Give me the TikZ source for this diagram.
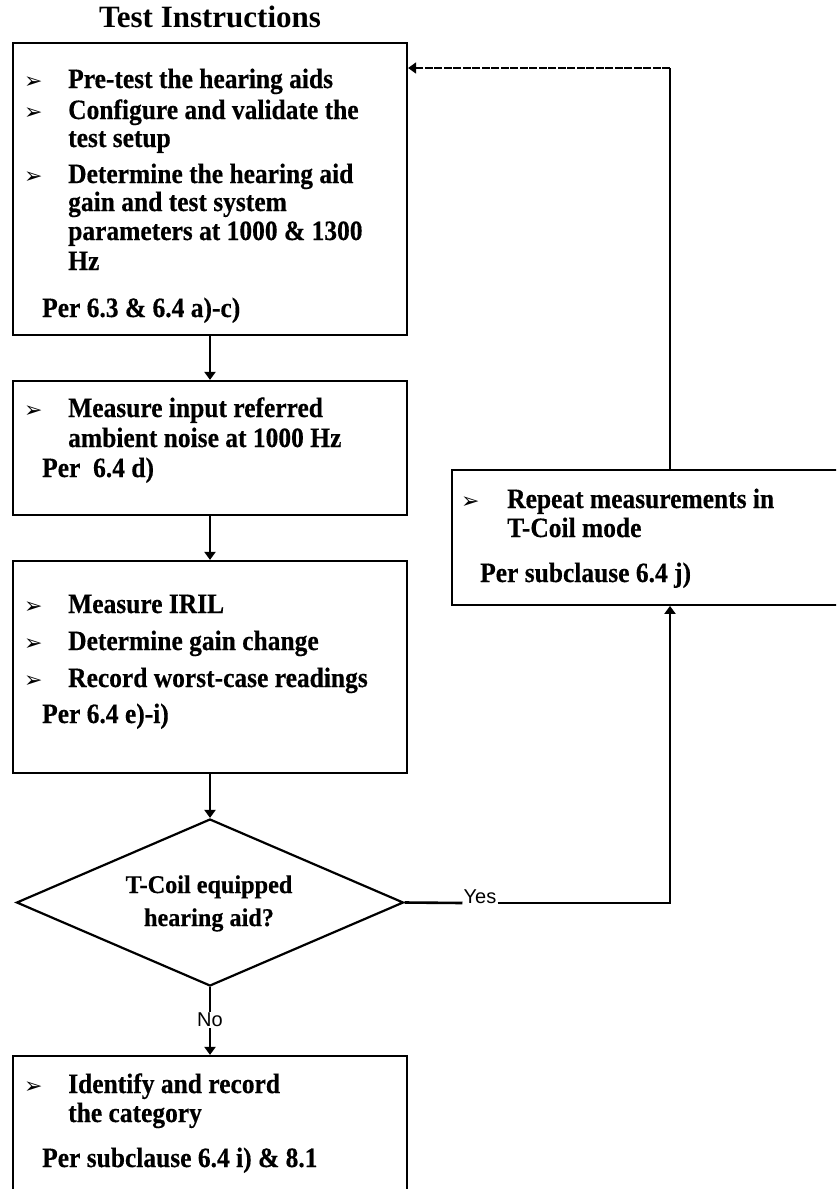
\documentclass[tikz,border=0pt]{standalone}
\usepackage{fontspec}
\setmainfont{Liberation Serif}
\newfontfamily\boxfont[FakeStretch=0.91,FakeBold=0.4]{Liberation Serif Bold}
\newfontfamily\diafont[FakeStretch=0.95,FakeBold=0.4]{Liberation Serif Bold}
\newfontfamily\sansf{Liberation Sans}
\newfontfamily\symf{DejaVu Sans}
\usetikzlibrary{arrows.meta,shapes.geometric}
\tikzset{
  boxst/.style={draw, rectangle, line width=2.2pt, inner sep=0pt},
  txt/.style={font=\boxfont\fontsize{28}{30}\selectfont, inner sep=0pt, anchor=base west},
  ctxt/.style={font=\diafont\fontsize{25.5}{28}\selectfont, inner sep=0pt, anchor=base},
  bul/.style={font=\symf\fontsize{22}{24}\selectfont, inner sep=0pt, anchor=base west},
  lbl/.style={font=\sansf\fontsize{20}{22}\selectfont, inner sep=1pt},
  conn/.style={line width=2.6pt, -{Triangle[width=11pt,length=8pt]}},
  plain/.style={line width=2.6pt},
  yesline/.style={line width=2.6pt},
  loopv/.style={line width=1.8pt},
  looph/.style={line width=1.8pt, dash pattern=on 8pt off 1.5pt, -{Triangle[width=11pt,length=8pt]}}
}
\begin{document}
\begin{tikzpicture}[x=1pt,y=-1pt]
\useasboundingbox (0,0) rectangle (836,1189);
\fill[white] (0,0) rectangle (836,1189);
\clip (0,0) rectangle (836,1189);

% title
\node[font=\bfseries\fontsize{31}{34}\selectfont, inner sep=0pt, anchor=base] (title) at (210,27) {Test Instructions};

% boxes
\node[boxst, minimum width=394pt, minimum height=292pt] (box1) at (210,189) {};
\node[boxst, minimum width=394pt, minimum height=134pt] (box2) at (210,448) {};
\node[boxst, minimum width=394pt, minimum height=212pt] (box3) at (210,667) {};
\node[boxst, minimum width=394pt, minimum height=174pt] (box5) at (210,1143) {};
\node[boxst, line width=1.8pt, minimum width=436pt, minimum height=135pt] (rbox) at (670,537.5) {};
\node[diamond, draw, line width=2.2pt, inner sep=0pt,
      minimum width=387pt, minimum height=167pt] (dia) at (210,902.5) {};

% box 1 text
\node[bul] (b1p1) at (24,88) {➢};
\node[txt] (b1a) at (68,88) {Pre-test the hearing aids};
\node[bul] (b1p2) at (24,119) {➢};
\node[txt] (b1b) at (68,119) {Configure and validate the};
\node[txt] (b1c) at (68,147) {test setup};
\node[bul] (b1p3) at (24,183) {➢};
\node[txt] (b1d) at (68,183) {Determine the hearing aid};
\node[txt] (b1e) at (68,211) {gain and test system};
\node[txt] (b1f) at (68,240) {parameters at 1000 \& 1300};
\node[txt] (b1g) at (68,270) {Hz};
\node[txt] (b1h) at (42,317) {Per 6.3 \& 6.4 a)-c)};

% box 2 text
\node[bul] (b2p1) at (24,417) {➢};
\node[txt] (b2a) at (68,417) {Measure input referred};
\node[txt] (b2b) at (68,447) {ambient noise at 1000 Hz};
\node[txt] (b2c) at (42,477) {Per\ \ 6.4 d)};

% box 3 text
\node[bul] (b3p1) at (24,613) {➢};
\node[txt] (b3a) at (68,613) {Measure IRIL};
\node[bul] (b3p2) at (24,650) {➢};
\node[txt] (b3b) at (68,650) {Determine gain change};
\node[bul] (b3p3) at (24,687) {➢};
\node[txt] (b3c) at (68,687) {Record worst-case readings};
\node[txt] (b3d) at (42,723) {Per 6.4 e)-i)};

% diamond text
\node[ctxt] (d1) at (209,893) {T-Coil equipped};
\node[ctxt] (d2) at (209,926) {hearing aid?};

% box 5 text
\node[bul] (b5p1) at (24,1093) {➢};
\node[txt] (b5a) at (68,1093) {Identify and record};
\node[txt] (b5b) at (68,1122) {the category};
\node[txt] (b5c) at (42,1167) {Per subclause 6.4 i) \& 8.1};

% right box text
\node[bul] (rp1) at (461,508) {➢};
\node[txt] (ra) at (507,508) {Repeat measurements in};
\node[txt] (rb) at (507,537) {T-Coil mode};
\node[txt] (rc) at (480,582) {Per subclause 6.4 j)};

% labels
\node[lbl] (no) at (210,1020) {No};
\node[lbl, anchor=base, inner sep=0pt] (yes) at (480,903) {Yes};

% connectors
\draw[conn] (box1.south) -- (box2.north);
\draw[conn] (box2.south) -- (box3.north);
\draw[conn] (box3.south) -- (dia.north);
\draw[plain] (dia.south) -- (no.north);
\draw[conn] (no.south) -- (box5.north);
\draw[yesline] (dia.east) -- ([xshift=-1pt]yes.base west);
\draw[yesline, -{Triangle[width=11pt,length=8pt]}] ([xshift=1pt]yes.base east) -| (rbox.south);
\coordinate (loopc) at (670,68);
\draw[loopv] (rbox.north) -- (loopc);
\draw[looph] (loopc) -- (box1.east |- loopc);
\end{tikzpicture}
\end{document}
